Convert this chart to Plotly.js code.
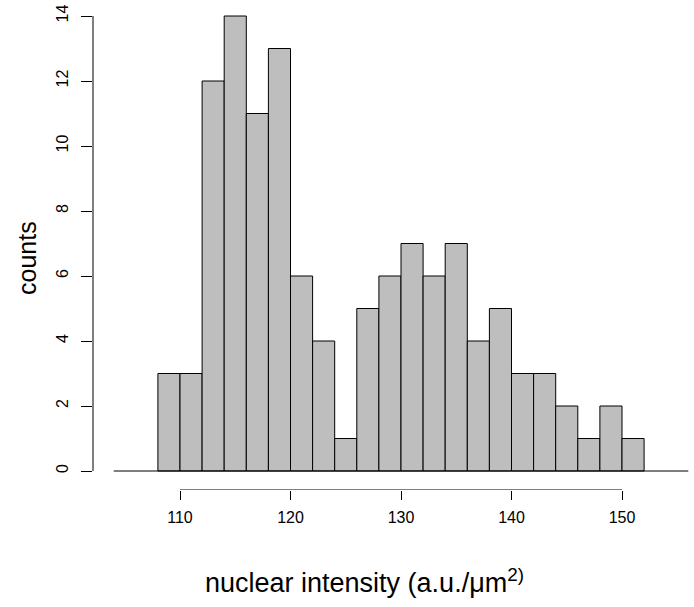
<!DOCTYPE html>
<html>
<head>
<meta charset="utf-8">
<script src="https://cdn.plot.ly/plotly-3.0.1.min.js"></script>
<style>html,body{margin:0;padding:0;background:#fff;}#chart{width:694px;height:607px;}</style>
</head>
<body>
<div id="chart"></div>
<script>
var binStarts = [108,110,112,114,116,118,120,122,124,126,128,130,132,134,136,138,140,142,144,146,148,150];
var counts    = [3,3,12,14,11,13,6,4,1,5,6,7,6,7,4,5,3,3,2,1,2,1];
var binWidth = 2;
var xTicks = [110,120,130,140,150];
var yTicks = [0,2,4,6,8,10,12,14];
var xTitle = 'nuclear intensity (a.u./\u03bcm<sup>2)</sup>';
var yTitle = 'counts';

var centers = binStarts.map(function(s){return s + binWidth/2;});
var font = 'Liberation Sans, Arial, Helvetica, sans-serif';

var trace = {
  type: 'bar',
  x: centers,
  y: counts,
  width: binWidth,
  marker: {color: '#BEBEBE', line: {color: '#000000', width: 1}},
  hoverinfo: 'x+y'
};

var layout = {
  width: 694, height: 607,
  margin: {l: 93, r: 0, t: 0, b: 117},
  paper_bgcolor: '#ffffff', plot_bgcolor: '#ffffff',
  showlegend: false,
  font: {family: font, color: '#000'},
  xaxis: {
    range: [110 - 87/11.05, 110 + 514/11.05],
    tickmode: 'array', tickvals: xTicks, ticktext: xTicks.map(String),
    ticks: 'outside', ticklen: 9, tickwidth: 1, tickcolor: '#000',
    showline: false, showgrid: false, zeroline: false,
    tickfont: {size: 16, family: font},
    ticklabelstandoff: 4,
    automargin: false
  },
  yaxis: {
    range: [-19/32.5, 14 + 16/32.5],
    tickmode: 'array', tickvals: yTicks, ticktext: yTicks.map(String),
    ticks: 'outside', ticklen: 11, tickwidth: 1, tickcolor: '#000',
    tickangle: -90,
    showline: false, showgrid: false, zeroline: false,
    tickfont: {size: 16, family: font},
    ticklabelstandoff: 7,
    automargin: false
  },
  annotations: [
    {text: xTitle, xref: 'paper', yref: 'paper', x: (364-93)/601, y: (490-581)/490,
     xanchor: 'center', yanchor: 'middle', showarrow: false, font: {size: 27, family: font, color: '#000'}},
    {text: yTitle, xref: 'paper', yref: 'paper', x: (26.5-93)/601, y: (490-258.5)/490, textangle: -90,
     xanchor: 'center', yanchor: 'middle', showarrow: false, font: {size: 25, family: font, color: '#000'}}
  ],
  shapes: [
    {type: 'line', xref: 'x', yref: 'y', x0: 110, x1: 150, y0: -19/32.5, y1: -19/32.5, line: {color: '#000', width: 1}},
    {type: 'line', xref: 'paper', yref: 'y', x0: 0, x1: 0, y0: 0, y1: 14, line: {color: '#000', width: 1}},
    {type: 'line', xref: 'x', yref: 'y', x0: 104, x1: 156, y0: 0, y1: 0, line: {color: '#000', width: 1}, layer: 'above'}
  ]
};

Plotly.newPlot('chart', [trace], layout, {displayModeBar: false, staticPlot: true});
</script>
</body>
</html>
